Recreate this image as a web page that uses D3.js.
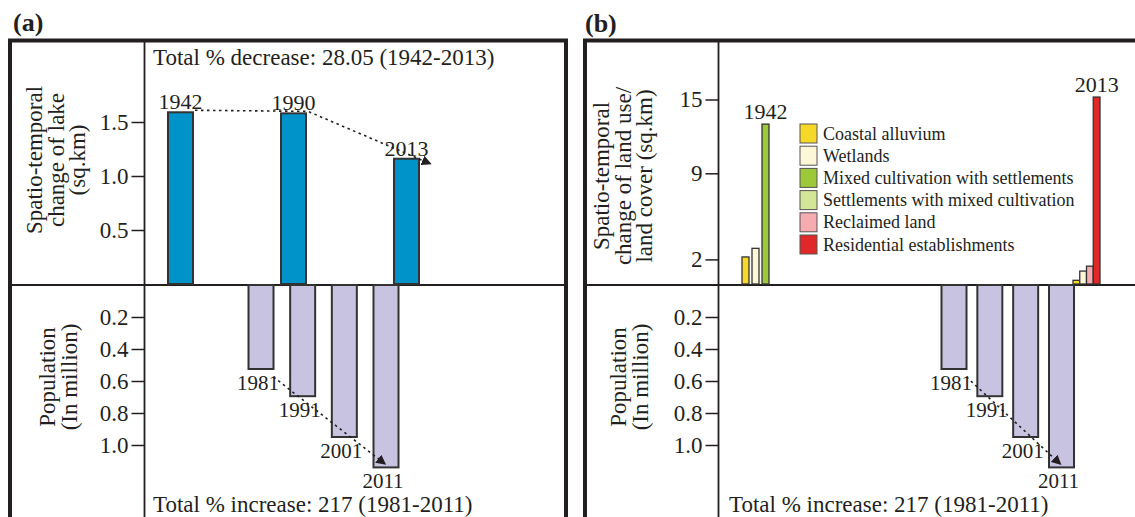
<!DOCTYPE html>
<html>
<head>
<meta charset="utf-8">
<script src="https://cdn.jsdelivr.net/npm/d3@7"></script>
<style>
  body { margin: 0; background: #fff; }
  svg { display: block; font-family: "Liberation Serif", "Times New Roman", serif; }
</style>
</head>
<body>
<script>
// ---- data ----
const lakeYears = ["1942", "1990", "2013"];
const lakeArea = [1.59, 1.58, 1.16];          // sq.km

const popYears = ["1981", "1991", "2001", "2011"];
const population = [0.525, 0.695, 0.95, 1.14]; // million

const landClasses = ["Coastal alluvium", "Wetlands", "Mixed cultivation with settlements",
  "Settlements with mixed cultivation", "Reclaimed land", "Residential establishments"];
const landYears = ["1942", "2013"];
const land1942 = [2.2, 2.9, 13.0, null, null, null];
const land2013 = [0.3, 1.05, null, null, 1.45, 15.2];

const lakeTicks = [0.5, 1.0, 1.5];
const popTicks = [0.2, 0.4, 0.6, 0.8, 1.0];
const landTicks = [2, 9, 15];

// ---- styles ----
const ink = "#231f20";
const lakeColor = "#0093c9";
const popColor = "#c8c3e1";
const landColors = ["#f6d928", "#fdf7d8", "#9cc83a", "#d3e597", "#f5abb0", "#e02828"];

const width = 1135, height = 517;
const baseY = 285;
const barW = 25;

const svg = d3.select("body").append("svg")
  .attr("width", width)
  .attr("height", height)
  .attr("viewBox", [0, 0, width, height]);

svg.append("defs").append("marker")
  .attr("id", "arr")
  .attr("viewBox", "0 0 10 10")
  .attr("refX", 6).attr("refY", 5)
  .attr("markerWidth", 10).attr("markerHeight", 10)
  .attr("markerUnits", "userSpaceOnUse")
  .attr("orient", "auto")
  .append("path").attr("d", "M0,0L10,5L0,10z").attr("fill", ink);

// ---- scales ----
const yLake = d3.scaleLinear().domain([0, 1.5]).range([284, 122]);
const yPop = d3.scaleLinear().domain([0, 1]).range([baseY, 445]);
const yLand = d3.scaleLinear().domain([0, 15]).range([284, 99.5]);

const xLake = d3.scalePoint().domain(lakeYears).range([180.5, 406.5]);
const xPopA = d3.scalePoint().domain(popYears).range([261, 386]);
const xPopB = d3.scalePoint().domain(popYears).range([954, 1061.5]);
const xLand = d3.scalePoint().domain(landYears).range([755.5, 1086.5]);

// ---- frames ----
function frame(x0, x1, divX) {
  svg.append("line")
    .attr("x1", divX).attr("x2", divX).attr("y1", 40).attr("y2", height + 5)
    .attr("stroke", ink).attr("stroke-width", 1.8);
  svg.append("line")
    .attr("x1", x0).attr("x2", x1).attr("y1", baseY).attr("y2", baseY)
    .attr("stroke", ink).attr("stroke-width", 2);
  svg.append("rect")
    .attr("x", x0).attr("y", 40.5)
    .attr("width", x1 - x0).attr("height", height)
    .attr("fill", "none").attr("stroke", ink).attr("stroke-width", 4);
}
frame(10, 566, 144.5);
frame(585, width + 20, 718.5);

svg.append("text").attr("x", 13).attr("y", 31)
  .attr("font-size", 26).attr("font-weight", "bold").attr("fill", ink).text("(a)");
svg.append("text").attr("x", 585).attr("y", 32)
  .attr("font-size", 26).attr("font-weight", "bold").attr("fill", ink).text("(b)");

function yLabel(x, y, lines) {
  const t = svg.append("text")
    .attr("transform", `translate(${x},${y}) rotate(-90)`)
    .attr("text-anchor", "middle")
    .attr("font-size", 23)
    .attr("fill", ink);
  t.selectAll("tspan").data(lines).join("tspan")
    .attr("x", 0)
    .attr("dy", (d, i) => i === 0 ? 0 : 21.5)
    .text(d => d);
}
yLabel(42, 160, ["Spatio-temporal", "change of lake", "(sq.km)"]);
yLabel(55, 377, ["Population", "(In million)"]);
yLabel(609, 176, ["Spatio-temporal", "change of land use/", "land cover (sq.km)"]);
yLabel(626, 377, ["Population", "(In million)"]);

function axis(x, scale, ticks, fmt) {
  svg.append("g")
    .attr("transform", `translate(${x},0)`)
    .call(d3.axisLeft(scale).tickValues(ticks).tickSize(13).tickPadding(3).tickFormat(d3.format(fmt)))
    .call(g => g.select(".domain").remove())
    .call(g => g.selectAll(".tick line").attr("stroke", ink).attr("stroke-width", 1.5))
    .call(g => g.selectAll(".tick text")
      .attr("fill", ink)
      .attr("font-size", 23)
      .attr("font-family", "Liberation Serif, serif"));
}
axis(144.5, yLake, lakeTicks, ".1f");
axis(144.5, yPop, popTicks, ".1f");
axis(718.5, yLand, landTicks, "d");
axis(718.5, yPop, popTicks, ".1f");

function dotted(points) {
  svg.append("path")
    .attr("d", d3.line()(points))
    .attr("fill", "none")
    .attr("stroke", ink)
    .attr("stroke-width", 1.6)
    .attr("stroke-dasharray", "2.5,3.5")
    .attr("marker-end", "url(#arr)");
}

// ---- (a) lake bars ----
const lake = lakeYears.map((year, i) => ({ year, value: lakeArea[i] }));

svg.append("g").selectAll("rect").data(lake).join("rect")
  .attr("x", d => xLake(d.year) - barW / 2)
  .attr("y", d => yLake(d.value))
  .attr("width", barW)
  .attr("height", d => yLake(0) - yLake(d.value))
  .attr("fill", lakeColor)
  .attr("stroke", "#333")
  .attr("stroke-width", 2);

dotted(lake.map((d, i) => i < lake.length - 1
  ? [xLake(d.year) + barW / 2 + 2, yLake(d.value) - 2]
  : [xLake(d.year) + barW / 2 + 9, yLake(d.value) + 4]));

svg.append("g").selectAll("text").data(lake).join("text")
  .attr("x", d => xLake(d.year))
  .attr("y", d => yLake(d.value) - 3)
  .attr("text-anchor", "middle")
  .attr("font-size", 22)
  .attr("fill", ink)
  .text(d => d.year);

svg.append("text").attr("x", 153).attr("y", 65)
  .attr("font-size", 23).attr("fill", ink)
  .text("Total % decrease: 28.05 (1942-2013)");

// ---- population bars, both panels ----
const pop = popYears.map((year, i) => ({ year, value: population[i] }));

function popBars(xs) {
  svg.append("g").selectAll("rect").data(pop).join("rect")
    .attr("x", d => xs(d.year) - barW / 2)
    .attr("y", yPop(0))
    .attr("width", barW)
    .attr("height", d => yPop(d.value) - yPop(0))
    .attr("fill", popColor)
    .attr("stroke", "#333")
    .attr("stroke-width", 2);

  const first = pop[0], last = pop[pop.length - 1];
  dotted([
    [xs(first.year) + barW / 2, yPop(first.value) + 8],
    [xs(last.year) - 3, yPop(last.value) - 5]
  ]);

  svg.append("g").selectAll("text").data(pop).join("text")
    .attr("x", d => xs(d.year) - 3)
    .attr("y", d => yPop(d.value) + 21)
    .attr("text-anchor", "middle")
    .attr("font-size", 21)
    .attr("fill", ink)
    .text(d => d.year);
}
popBars(xPopA);
popBars(xPopB);

svg.append("text").attr("x", 153).attr("y", 512)
  .attr("font-size", 23).attr("fill", ink)
  .text("Total % increase: 217 (1981-2011)");
svg.append("text").attr("x", 729).attr("y", 512)
  .attr("font-size", 23).attr("fill", ink)
  .text("Total % increase: 217 (1981-2011)");

// ---- (b) land use / land cover bars ----
const groups = [land1942, land2013].map((vals, gi) => ({
  year: landYears[gi],
  bars: landClasses.map((c, i) => ({ cls: c, value: vals[i], color: landColors[i] }))
    .filter(d => d.value !== null)
}));

groups.forEach(grp => {
  const cx = xLand(grp.year);
  const inner = d3.scaleBand()
    .domain(grp.bars.map(d => d.cls))
    .range([cx - 13.5, cx + 13.5])
    .paddingInner(grp.bars.length > 3 ? 0 : 0.3);

  const g = svg.append("g");
  g.selectAll("rect").data(grp.bars).join("rect")
    .attr("x", d => inner(d.cls))
    .attr("y", d => yLand(d.value))
    .attr("width", inner.bandwidth())
    .attr("height", d => yLand(0) - yLand(d.value))
    .attr("fill", d => d.color)
    .attr("stroke", "#333")
    .attr("stroke-width", 1.3);

  const top = grp.bars.reduce((a, b) => b.value > a.value ? b : a);
  g.append("text")
    .attr("x", inner(top.cls) + inner.bandwidth() / 2)
    .attr("y", yLand(top.value) - 5)
    .attr("text-anchor", "middle")
    .attr("font-size", 22)
    .attr("fill", ink)
    .text(grp.year);
});

// legend
const legend = svg.append("g").attr("transform", "translate(800,124)");
const row = legend.selectAll("g").data(landClasses).join("g")
  .attr("transform", (d, i) => `translate(0,${i * 22.2})`);
row.append("rect")
  .attr("width", 17).attr("height", 19)
  .attr("fill", (d, i) => landColors[i])
  .attr("stroke", "#555").attr("stroke-width", 1);
row.append("text")
  .attr("x", 23).attr("y", 15.5)
  .attr("font-size", 18)
  .attr("fill", ink)
  .text(d => d);
</script>
</body>
</html>
